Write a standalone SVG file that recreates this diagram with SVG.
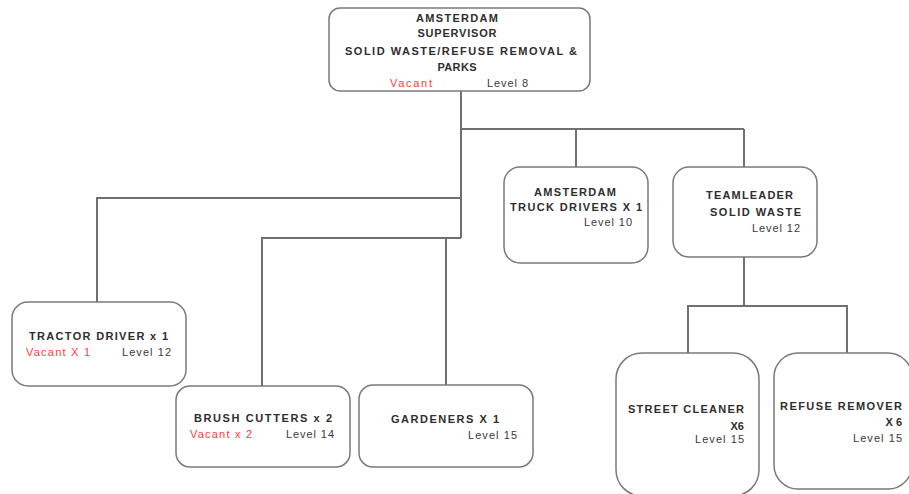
<svg xmlns="http://www.w3.org/2000/svg" width="909" height="494" viewBox="0 0 909 494">
  <style>
    .box { fill: #ffffff; stroke: #7a7a7a; stroke-width: 1.5; }
    .wire { fill: none; stroke: #707070; stroke-width: 2; }
    text { font-family: "Liberation Sans", Arial, sans-serif; font-size: 11px; }
    .t { fill: #2e2e2e; font-weight: bold; }
    .lv { fill: #3a3a3a; }
    .vac { fill: #ff3b3b; }
    .mid { text-anchor: middle; }
    .end { text-anchor: end; }
  </style>
  <rect width="909" height="494" fill="#ffffff"/>

  <g id="connectors">
    <polyline class="wire" points="461,91 461,238"/>
    <polyline class="wire" points="461,129 744,129"/>
    <polyline class="wire" points="576,129 576,167"/>
    <polyline class="wire" points="744,129 744,167"/>
    <polyline class="wire" points="461,198 97,198 97,302"/>
    <polyline class="wire" points="461,238 262,238 262,386"/>
    <polyline class="wire" points="446,238 446,385"/>
    <polyline class="wire" points="744,257 744,306"/>
    <polyline class="wire" points="688,353 688,306 847,306 847,353"/>
  </g>

  <g id="supervisor">
    <rect class="box" x="329" y="8" width="261" height="83" rx="11"/>
    <text class="t mid" x="457" y="22" textLength="82">AMSTERDAM</text>
    <text class="t mid" x="457" y="37" textLength="79">SUPERVISOR</text>
    <text class="t mid" x="461" y="55" textLength="232">SOLID WASTE/REFUSE  REMOVAL &amp;</text>
    <text class="t mid" x="457" y="71" textLength="39">PARKS</text>
    <text class="vac" x="390" y="87" textLength="42">Vacant</text>
    <text class="lv" x="487" y="87" textLength="41">Level  8</text>
  </g>

  <g id="truck-drivers">
    <rect class="box" x="504" y="167" width="144" height="96" rx="16"/>
    <text class="t mid" x="575" y="196" textLength="82">AMSTERDAM</text>
    <text class="t" x="510" y="211" textLength="132">TRUCK DRIVERS X 1</text>
    <text class="lv end" x="632" y="226" textLength="48">Level  10</text>
  </g>

  <g id="teamleader">
    <rect class="box" x="673" y="167" width="144" height="90" rx="16"/>
    <text class="t" x="706" y="199" textLength="87">TEAMLEADER</text>
    <text class="t" x="710" y="216" textLength="91">SOLID WASTE</text>
    <text class="lv end" x="800" y="232" textLength="48">Level  12</text>
  </g>

  <g id="tractor-driver">
    <rect class="box" x="12" y="302" width="174" height="84" rx="16"/>
    <text class="t" x="29" y="340" textLength="139">TRACTOR  DRIVER  x 1</text>
    <text class="vac" x="26" y="356" textLength="64">Vacant X 1</text>
    <text class="lv end" x="171" y="356" textLength="49">Level  12</text>
  </g>

  <g id="brush-cutters">
    <rect class="box" x="176" y="386" width="174" height="81" rx="14"/>
    <text class="t" x="194" y="422" textLength="138">BRUSH CUTTERS  x 2</text>
    <text class="vac" x="190" y="438" textLength="62">Vacant x 2</text>
    <text class="lv end" x="334" y="438" textLength="48">Level  14</text>
  </g>

  <g id="gardeners">
    <rect class="box" x="359" y="385" width="174" height="82" rx="14"/>
    <text class="t" x="391" y="423" textLength="108">GARDENERS  X 1</text>
    <text class="lv end" x="517" y="439" textLength="49">Level  15</text>
  </g>

  <g id="street-cleaner">
    <rect class="box" x="616" y="353" width="143" height="143" rx="26"/>
    <text class="t" x="628" y="413" textLength="116">STREET CLEANER</text>
    <text class="t end" x="744" y="430">X6</text>
    <text class="lv end" x="744" y="443" textLength="49">Level  15</text>
  </g>

  <g id="refuse-remover">
    <rect class="box" x="774" y="353" width="138" height="136" rx="24"/>
    <text class="t" x="780" y="410" textLength="122">REFUSE  REMOVER</text>
    <text class="t end" x="902" y="426">X 6</text>
    <text class="lv end" x="902" y="442" textLength="49">Level  15</text>
  </g>
</svg>
